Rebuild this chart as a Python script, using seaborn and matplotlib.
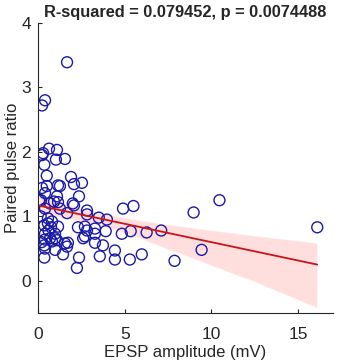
import pandas as pd
import matplotlib
matplotlib.use("Agg")
import matplotlib.pyplot as plt
import seaborn as sns

# EPSP amplitude (mV) and paired pulse ratio
epsp = [1.67, 0.40, 0.23, 0.63, 1.09, 0.23, 0.29, 1.03, 1.55, 0.36,
        0.50, 1.90, 0.23, 0.50, 1.15, 1.26, 2.07, 2.53, 0.40, 1.09,
        2.36, 0.06, 0.69, 1.15, 2.00, 2.07, 0.40, 1.26, 1.67, 2.82,
        2.82, 3.50, 3.97, 4.90, 5.50, 0.57, 0.57, 0.80, 0.36, 0.75,
        1.15, 2.30, 2.70, 2.82, 3.28, 3.90, 4.83, 5.34, 6.26, 7.10,
        0.40, 0.98, 2.70, 3.28, 0.40, 0.69, 0.98, 1.09, 2.60, 0.36,
        0.80, 1.55, 1.72, 3.28, 3.74, 0.40, 0.98, 1.67, 1.44, 4.43,
        3.56, 4.43, 5.29, 5.98, 0.36, 2.36, 2.24, 10.46, 8.97, 16.10,
        9.43, 7.87, 0.17, 0.92, 0.15, 0.60, 0.20]
ppr = [3.39, 2.80, 2.72, 2.05, 2.03, 1.95, 1.98, 1.88, 1.89, 1.80,
       1.63, 1.61, 1.44, 1.47, 1.48, 1.47, 1.50, 1.52, 1.36, 1.31,
       1.31, 1.25, 1.20, 1.22, 1.20, 1.17, 1.12, 1.12, 1.05, 1.09,
       1.03, 0.98, 0.95, 1.12, 1.16, 0.97, 0.89, 0.92, 0.86, 0.83,
       0.84, 0.83, 0.84, 0.78, 0.81, 0.77, 0.73, 0.77, 0.75, 0.78,
       0.73, 0.73, 0.69, 0.73, 0.64, 0.66, 0.66, 0.63, 0.66, 0.55,
       0.61, 0.58, 0.59, 0.59, 0.55, 0.50, 0.48, 0.53, 0.41, 0.47,
       0.38, 0.33, 0.33, 0.41, 0.36, 0.36, 0.20, 1.25, 1.06, 0.83,
       0.48, 0.31, 1.25, 1.23, 1.00, 0.78, 0.60]

df = pd.DataFrame({"epsp": epsp, "ppr": ppr})

sns.set_style("white")
plt.rcParams["font.family"] = ["Liberation Sans", "DejaVu Sans"]

fig, ax = plt.subplots(figsize=(3.4, 3.64), dpi=100)
fig.subplots_adjust(left=0.112, right=0.979, top=0.937, bottom=0.14)

# regression line with confidence band
sns.regplot(x="epsp", y="ppr", data=df, scatter=False, ci=90, seed=0,
            color="#c8141c", line_kws={"linewidth": 1.3}, ax=ax)
ax.collections[-1].set_facecolor("#ffc4c4")
ax.collections[-1].set_alpha(0.55)

sns.scatterplot(x="epsp", y="ppr", data=df, ax=ax, s=62,
                facecolors="none", edgecolor="#1a1aa6", linewidth=1.0)

ax.set_xlim(0, 17)
ax.set_ylim(-0.5, 4)
ax.set_xticks([0, 5, 10, 15])
ax.set_yticks([0, 1, 2, 3, 4])
ax.tick_params(bottom=True, left=True, direction="in", length=3, width=0.8,
               labelsize=12.5, colors="#262626")
ax.tick_params(axis="x", pad=10)
ax.tick_params(axis="y", pad=5)
for s in ["top", "right"]:
    ax.spines[s].set_visible(False)
for s in ["left", "bottom"]:
    ax.spines[s].set_color("#262626")
    ax.spines[s].set_linewidth(0.8)

ax.set_xlabel("EPSP amplitude (mV)", fontsize=12, color="#262626")
ax.set_ylabel("Paired pulse ratio", fontsize=12, color="#262626")
ax.xaxis.set_label_coords(0.5, -0.11)
ax.yaxis.set_label_coords(-0.062, 0.5)
ax.set_title("R-squared = 0.079452, p = 0.0074488", fontsize=11.8,
             fontweight="bold", pad=4)

fig.savefig("out.png", dpi=100)
